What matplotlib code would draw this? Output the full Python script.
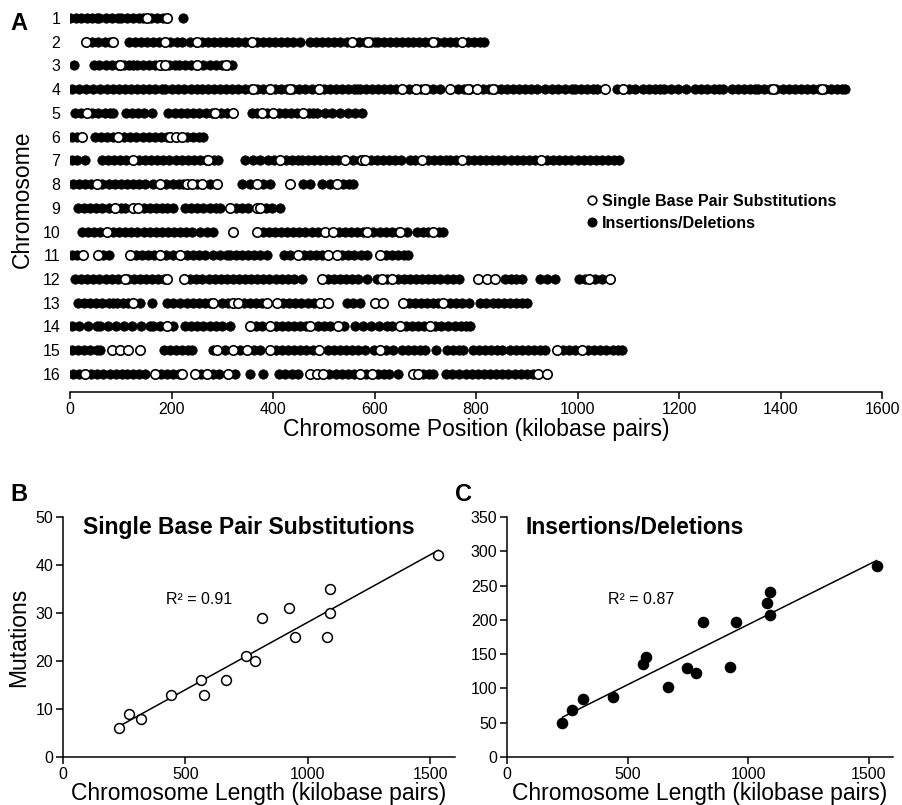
import numpy as np
import matplotlib
matplotlib.use("Agg")
import matplotlib.pyplot as plt
from matplotlib.lines import Line2D

plt.rcParams['font.family'] = ['Liberation Sans', 'DejaVu Sans']

# ---------------- Panel A data (kilobase positions) ----------------
indels_chr01 = [0, 11, 22, 33, 44, 53, 58, 70, 82, 94, 101, 113, 125, 136, 143, 160, 171, 183, 223]
snps_chr01 = [152, 191]
indels_chr02 = [44, 56, 68, 78, 116, 128, 140, 152, 164, 176, 198, 210, 221, 236, 248, 260, 272, 284, 296,
                308, 320, 332, 344, 356, 368, 380, 392, 404, 416, 428, 440, 453, 473, 485, 497, 509, 521,
                533, 545, 557, 569, 581, 593, 601, 607, 619, 631, 643, 655, 666, 676, 688, 700, 712, 724,
                736, 748, 760, 772, 784, 796, 808, 816]
snps_chr02 = [32, 85, 187, 250, 359, 556, 587, 715, 772]
indels_chr03 = [8, 47, 58, 70, 82, 94, 106, 117, 124, 132, 144, 156, 168, 180, 195, 207, 215, 227, 239,
                251, 263, 275, 287, 299, 311, 319]
snps_chr03 = [99, 177, 187, 250, 307]
indels_chr04 = [4, 18, 32, 46, 60, 72, 84, 96, 108, 120, 132, 144, 156, 168, 181, 187, 200, 212, 225, 238,
                250, 260, 272, 284, 296, 308, 320, 332, 344, 356, 368, 380, 392, 404, 416, 428, 440, 452,
                464, 476, 488, 500, 512, 524, 536, 548, 560, 566, 571, 583, 595, 607, 619, 631, 643, 655,
                667, 679, 691, 703, 715, 729, 765, 777, 789, 801, 813, 825, 837, 849, 861, 873, 885, 897,
                909, 921, 936, 950, 962, 975, 989, 995, 1007, 1019, 1031, 1038, 1078, 1090, 1102, 1113,
                1129, 1141, 1152, 1163, 1170, 1184, 1198, 1214, 1232, 1244, 1256, 1268, 1278, 1287, 1304,
                1316, 1328, 1340, 1350, 1356, 1368, 1380, 1392, 1404, 1416, 1428, 1440, 1452, 1464, 1476,
                1488, 1500, 1512, 1522, 1528]
snps_chr04 = [361, 394, 433, 491, 654, 682, 700, 749, 784, 802, 833, 1054, 1090, 1385, 1482]
indels_chr05 = [10, 21, 44, 56, 68, 78, 85, 110, 122, 134, 146, 162, 193, 207, 219, 231, 243, 255, 267,
                279, 298, 310, 359, 368, 389, 412, 424, 436, 448, 470, 479, 487, 502, 517, 532, 547, 561, 575]
snps_chr05 = [33, 286, 321, 378, 400, 459]
indels_chr06 = [4, 14, 49, 61, 73, 85, 107, 119, 131, 143, 155, 167, 179, 191, 231, 243, 255, 262]
snps_chr06 = [24, 95, 197, 209, 221]
indels_chr07 = [4, 14, 30, 63, 75, 87, 99, 111, 136, 148, 160, 172, 184, 196, 208, 220, 232, 244, 256, 268,
                284, 292, 345, 360, 374, 390, 402, 426, 438, 450, 457, 469, 481, 493, 505, 517, 529, 557,
                571, 593, 605, 617, 629, 641, 653, 670, 680, 705, 717, 729, 741, 749, 760, 784, 796, 808,
                820, 832, 844, 856, 868, 880, 892, 904, 916, 940, 952, 964, 976, 988, 1000, 1012, 1024,
                1036, 1048, 1060, 1072, 1082]
snps_chr07 = [124, 272, 414, 542, 575, 581, 693, 772, 928]
indels_chr08 = [6, 18, 30, 42, 64, 76, 88, 100, 112, 124, 136, 148, 164, 190, 202, 214, 222, 250, 275, 339,
                355, 380, 394, 459, 472, 496, 512, 538, 550, 558]
snps_chr08 = [53, 177, 230, 240, 260, 290, 368, 433, 526]
indels_chr09 = [16, 28, 40, 52, 64, 76, 100, 108, 146, 158, 170, 182, 191, 203, 227, 239, 251, 263, 275,
                287, 296, 327, 339, 351, 386, 398, 414]
snps_chr09 = [89, 124, 134, 315, 368, 374]
indels_chr10 = [24, 36, 48, 60, 85, 97, 109, 121, 133, 145, 157, 169, 181, 193, 205, 217, 229, 241, 256,
                270, 282, 380, 392, 404, 416, 428, 440, 452, 464, 476, 488, 530, 542, 554, 566, 577, 598,
                610, 622, 634, 646, 664, 684, 696, 705, 728, 735]
snps_chr10 = [73, 321, 368, 502, 518, 585, 650, 715]
indels_chr11 = [4, 14, 65, 77, 130, 142, 154, 166, 190, 202, 230, 242, 254, 266, 282, 296, 309, 315, 327,
                339, 351, 363, 375, 388, 422, 434, 461, 473, 485, 497, 536, 548, 560, 573, 585, 623, 635,
                647, 658, 666]
snps_chr11 = [26, 55, 118, 177, 217, 449, 508, 526, 611]
indels_chr12 = [10, 22, 34, 46, 58, 70, 82, 94, 114, 126, 138, 150, 162, 174, 186, 237, 249, 261, 273, 285,
                297, 309, 321, 333, 345, 357, 369, 381, 393, 405, 417, 429, 441, 457, 508, 520, 532, 544,
                556, 568, 585, 605, 625, 646, 658, 670, 682, 694, 706, 718, 730, 742, 754, 766, 857, 868,
                879, 890, 926, 940, 955, 1003, 1014, 1034, 1048]
snps_chr12 = [108, 191, 225, 496, 615, 634, 804, 822, 837, 1022, 1064]
indels_chr13 = [16, 28, 40, 52, 64, 76, 85, 93, 105, 115, 138, 162, 191, 203, 217, 230, 242, 254, 266, 276,
                299, 311, 343, 355, 367, 378, 420, 432, 444, 456, 468, 480, 546, 558, 571, 668, 680, 692,
                704, 716, 726, 749, 761, 773, 786, 807, 820, 833, 843, 855, 867, 879, 890, 900]
snps_chr13 = [124, 282, 321, 331, 388, 408, 493, 508, 601, 617, 656, 735]
indels_chr14 = [4, 18, 36, 53, 59, 75, 91, 107, 123, 139, 158, 164, 178, 203, 227, 239, 251, 263, 275, 287,
                299, 315, 367, 379, 406, 418, 430, 442, 454, 466, 488, 500, 512, 540, 561, 577, 593, 609,
                624, 634, 662, 674, 686, 698, 720, 732, 745, 758, 770, 780, 788]
snps_chr14 = [191, 355, 394, 473, 528, 650, 709]
indels_chr15 = [4, 16, 28, 40, 53, 59, 185, 197, 209, 221, 232, 240, 282, 305, 335, 362, 374, 406, 418, 430,
                442, 454, 466, 478, 508, 520, 532, 544, 556, 568, 581, 599, 623, 636, 654, 666, 678, 690,
                700, 721, 743, 755, 767, 774, 794, 806, 818, 830, 841, 851, 867, 879, 891, 903, 915, 927,
                936, 971, 983, 995, 1021, 1033, 1045, 1057, 1069, 1079, 1088]
snps_chr15 = [83, 98, 114, 138, 290, 321, 349, 394, 490, 611, 959, 1009]
indels_chr16 = [6, 18, 42, 54, 66, 78, 90, 102, 112, 124, 136, 148, 179, 191, 203, 215, 258, 282, 294, 325,
                355, 380, 412, 424, 437, 449, 510, 524, 536, 548, 560, 583, 607, 618, 629, 646, 696, 708,
                715, 741, 753, 766, 780, 792, 804, 816, 828, 840, 852, 864, 876, 888, 900, 912]
snps_chr16 = [30, 167, 221, 246, 270, 311, 473, 487, 498, 571, 595, 676, 686, 922, 940]

chromosome_labels = [str(i) for i in range(1, 17)]
indel_rows = [indels_chr01, indels_chr02, indels_chr03, indels_chr04, indels_chr05, indels_chr06,
              indels_chr07, indels_chr08, indels_chr09, indels_chr10, indels_chr11, indels_chr12,
              indels_chr13, indels_chr14, indels_chr15, indels_chr16]
snp_rows = [snps_chr01, snps_chr02, snps_chr03, snps_chr04, snps_chr05, snps_chr06,
            snps_chr07, snps_chr08, snps_chr09, snps_chr10, snps_chr11, snps_chr12,
            snps_chr13, snps_chr14, snps_chr15, snps_chr16]

# ---------------- Panels B and C data ----------------
chrom_length_kb = [230, 270, 317, 440, 563, 577, 667, 746, 784, 813, 924, 948, 1078, 1091, 1091, 1532]
snp_counts = [6, 9, 8, 13, 16, 13, 16, 21, 20, 29, 31, 25, 25, 35, 30, 42]
indel_counts = [49, 69, 85, 87, 135, 146, 102, 130, 122, 197, 131, 197, 225, 240, 207, 279]

# ---------------- Figure ----------------
W, H = 902, 805
fig = plt.figure(figsize=(W / 100, H / 100), dpi=100)

def fx(px):
    return px / W

def fy(py):
    return 1 - py / H

LABEL_FS = 16.5
TICK_FS = 11.5

# Panel A
axA = fig.add_axes([fx(70), fy(392), fx(882) - fx(70), fy(6) - fy(392)])
ms_area = 46
for i, (ind, snp) in enumerate(zip(indel_rows, snp_rows)):
    row = i + 1
    axA.scatter(ind, [row] * len(ind), s=ms_area, c='black', edgecolors='black', linewidths=0.5, zorder=2)
    axA.scatter(snp, [row] * len(snp), s=ms_area, c='white', edgecolors='black', linewidths=1.2, zorder=3)

axA.set_xlim(0, 1600)
axA.set_ylim(16.76, 0.5)
axA.set_xticks(np.arange(0, 1601, 200))
axA.set_yticks(range(1, 17))
axA.set_yticklabels(chromosome_labels)
for s in ['top', 'right', 'left']:
    axA.spines[s].set_visible(False)
axA.spines['bottom'].set_linewidth(1.1)
axA.tick_params(axis='y', length=0, pad=7, labelsize=TICK_FS)
axA.tick_params(axis='x', length=5, width=1.1, direction='out', labelsize=TICK_FS, pad=2)
axA.set_xlabel('Chromosome Position (kilobase pairs)', fontsize=LABEL_FS, labelpad=1)
axA.set_ylabel('Chromosome', fontsize=LABEL_FS, labelpad=6)

handles = [Line2D([], [], marker='o', linestyle='none', markersize=6.2, markerfacecolor='white',
                  markeredgecolor='black', markeredgewidth=1.2),
           Line2D([], [], marker='o', linestyle='none', markersize=6.2, markerfacecolor='black',
                  markeredgecolor='black')]
axA.legend(handles, ['Single Base Pair Substitutions', 'Insertions/Deletions'],
           loc='upper left', bbox_to_anchor=((587 - 70) / 812, (392 - 194) / 386),
           frameon=False, borderpad=0, borderaxespad=0, handlelength=0.6, handletextpad=0.3,
           labelspacing=0.42, prop={'weight': 'bold', 'size': 11.6})

fig.text(fx(10), fy(30), 'A', fontsize=17, fontweight='bold', va='baseline')

def style_small(ax):
    for s in ['top', 'right']:
        ax.spines[s].set_visible(False)
    for s in ['left', 'bottom']:
        ax.spines[s].set_linewidth(1.1)
    ax.tick_params(length=5, width=1.1, direction='out', labelsize=TICK_FS, pad=2)
    ax.set_xlim(0, 1600)
    ax.set_xticks([0, 500, 1000, 1500])
    ax.set_xlabel('Chromosome Length (kilobase pairs)', fontsize=LABEL_FS, labelpad=0)

x_arr = np.array(chrom_length_kb, dtype=float)
xs = np.array([x_arr.min(), x_arr.max()])

# Panel B
axB = fig.add_axes([fx(63), fy(757), fx(455) - fx(63), fy(517) - fy(757)])
axB.scatter(chrom_length_kb, snp_counts, s=50, facecolors='white', edgecolors='black', linewidths=1.1, zorder=3)
b1, b0 = np.polyfit(x_arr, snp_counts, 1)
axB.plot(xs, b0 + b1 * xs, color='black', lw=1.1, zorder=2)
axB.set_ylim(0, 50)
axB.set_yticks(range(0, 51, 10))
style_small(axB)
axB.set_ylabel('Mutations', fontsize=LABEL_FS, labelpad=4)
axB.text(0.051, 0.955, 'Single Base Pair Substitutions', transform=axB.transAxes, fontsize=16.5,
         fontweight='bold', va='center', ha='left')
axB.text(420, 32.8, 'R\u00b2 = 0.91', fontsize=11.5, va='center', ha='left')
fig.text(fx(10), fy(501), 'B', fontsize=17, fontweight='bold', va='baseline')

# Panel C
axC = fig.add_axes([fx(507), fy(757), fx(893) - fx(507), fy(517) - fy(757)])
axC.scatter(chrom_length_kb, indel_counts, s=54, c='black', zorder=3)
c1, c0 = np.polyfit(x_arr, indel_counts, 1)
axC.plot(xs, c0 + c1 * xs, color='black', lw=1.1, zorder=2)
axC.set_ylim(0, 350)
axC.set_yticks(range(0, 351, 50))
style_small(axC)
axC.text(0.049, 0.955, 'Insertions/Deletions', transform=axC.transAxes, fontsize=16.5,
         fontweight='bold', va='center', ha='left')
axC.text(419, 230, 'R\u00b2 = 0.87', fontsize=11.5, va='center', ha='left')
fig.text(fx(455), fy(501), 'C', fontsize=17, fontweight='bold', va='baseline')

fig.savefig('out.png', dpi=100)
